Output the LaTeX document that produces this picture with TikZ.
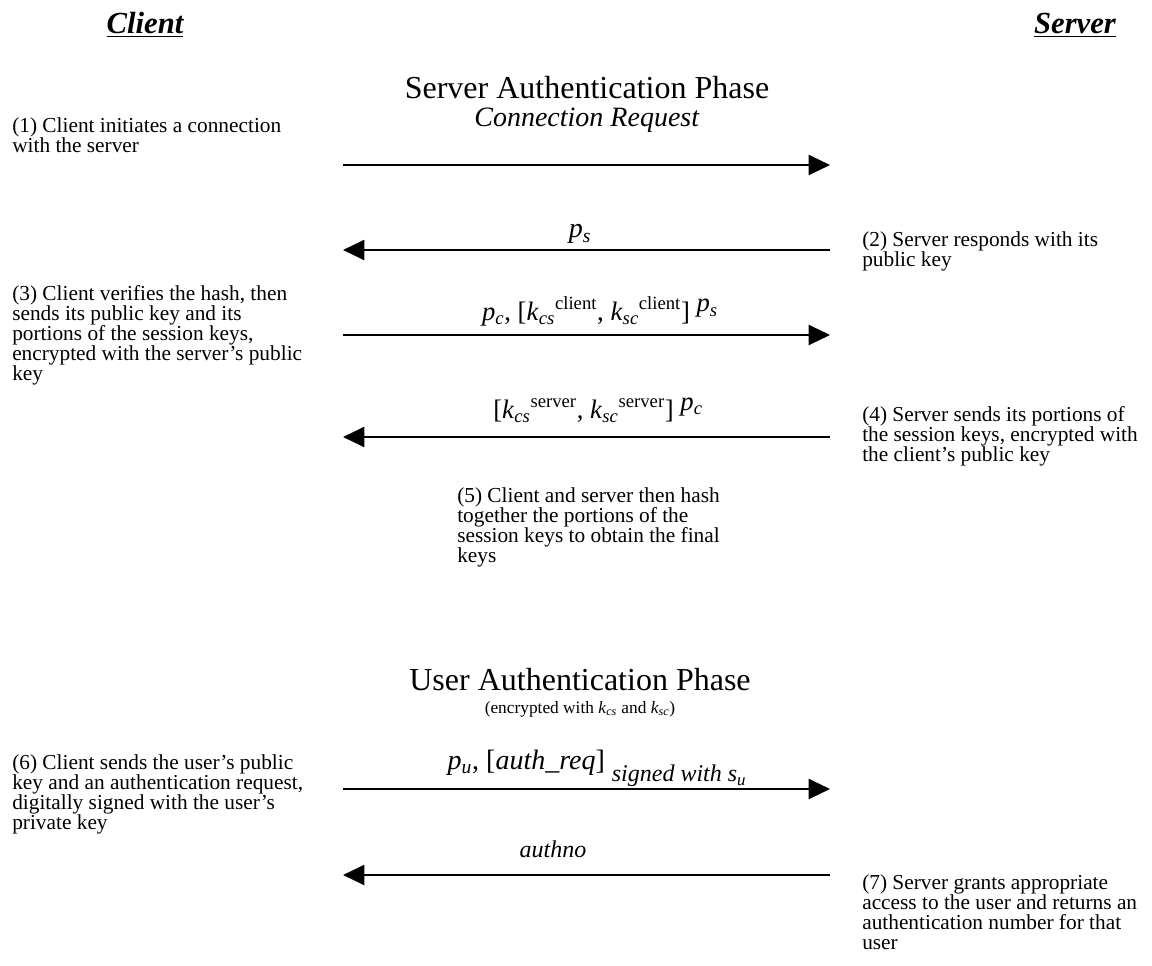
\documentclass[tikz,border=0pt]{standalone}
\usepackage{fontspec}
\setmainfont{Liberation Serif}
\usetikzlibrary{arrows.meta}
\tikzstyle{actor} = [font=\fontsize{23}{26}\selectfont\bfseries\itshape, inner sep=0pt, anchor=base]
\tikzstyle{phase} = [font=\fontsize{24}{28}\selectfont, inner sep=0pt, anchor=base]
\tikzstyle{note} = [align=left, anchor=base west, inner sep=0pt, font=\fontsize{16}{15}\selectfont]
\tikzstyle{msg} = [font=\fontsize{21}{24}\selectfont, inner sep=0pt, anchor=base]
\tikzstyle{arrow} = [line width=1.6pt, -{Triangle[length=16pt,width=15pt]}]
\newcommand{\skey}[2]{\textit{k}\textsubscript{\textit{#1}}\textsuperscript{#2}}
\newcommand{\pkey}[1]{\textit{p}\textsubscript{\textit{#1}}}

\begin{document}
\begin{tikzpicture}[x=0.75pt, y=-0.75pt]
        \useasboundingbox (0,0) rectangle (1152,966);
        \node (client) [actor] at (145,34) {\underline{Client}};
        \node (server) [actor] at (1075,34) {\underline{Server}};
        \node (sphase) [phase] at (587,99) {Server Authentication Phase};
        % arrow end points
        \coordinate (c1) at (343,165); \coordinate (s1) at (830,165);
        \coordinate (c2) at (343,250); \coordinate (s2) at (830,250);
        \coordinate (c3) at (343,335); \coordinate (s3) at (830,335);
        \coordinate (c4) at (343,437); \coordinate (s4) at (830,437);
        \coordinate (c6) at (343,789); \coordinate (s6) at (830,789);
        \coordinate (c7) at (343,875); \coordinate (s7) at (830,875);
        % messages
        \node (m1) [msg] at (587,127) {\textit{Connection Request}};
        \node (m2) [msg] at (580,238) {\pkey{s}};
        \node (m3) [msg, font=\fontsize{20}{24}\selectfont] at (600,320) {\pkey{c}, [\skey{cs}{client}, \skey{sc}{client}] \raisebox{0.3em}{\pkey{s}}};
        \node (m4) [msg, font=\fontsize{20}{24}\selectfont] at (598,418) {[\skey{cs}{server}, \skey{sc}{server}] \raisebox{0.3em}{\pkey{c}}};
        \node (m6) [msg] at (597,769) {\pkey{u}, [\textit{auth\_req}] \raisebox{-0.45em}{\fontsize{18}{20}\selectfont\textit{signed with s}\textsubscript{\textit{u}}}};
        \node (m7) [msg, font=\fontsize{18}{20}\selectfont] at (553,857) {\textit{authno}};
        % steps (anchored at the last line)
        \node (n1) [note] at (12,153) {(1) Client initiates a connection\\with the server};
        \node (n2) [note] at (862,267) {(2) Server responds with its\\public key};
        \node (n3) [note] at (12,380) {(3) Client verifies the hash, then\\sends its public key and its\\portions of the session keys,\\encrypted with the server's public\\key};
        \node (n4) [note] at (862,461) {(4) Server sends its portions of\\the session keys, encrypted with\\the client's public key};
        \node (n5) [note] at (457,562) {(5) Client and server then hash\\together the portions of the\\session keys to obtain the final\\keys};
        \node (uphase) [phase] at (580,690) {User Authentication Phase};
        \node (enc) [font=\fontsize{13}{15}\selectfont, inner sep=0pt, anchor=base] at (580,713) {(encrypted with \textit{k}\textsubscript{\textit{cs}} and \textit{k}\textsubscript{\textit{sc}})};
        \node (n6) [note] at (12,829) {(6) Client sends the user's public\\key and an authentication request,\\digitally signed with the user's\\private key};
        \node (n7) [note] at (862,949) {(7) Server grants appropriate\\access to the user and returns an\\authentication number for that\\user};
        \draw [arrow] (c1) -- (s1);
        \draw [arrow] (s2) -- (c2);
        \draw [arrow] (c3) -- (s3);
        \draw [arrow] (s4) -- (c4);
        \draw [arrow] (c6) -- (s6);
        \draw [arrow] (s7) -- (c7);
    \end{tikzpicture}
\end{document}
